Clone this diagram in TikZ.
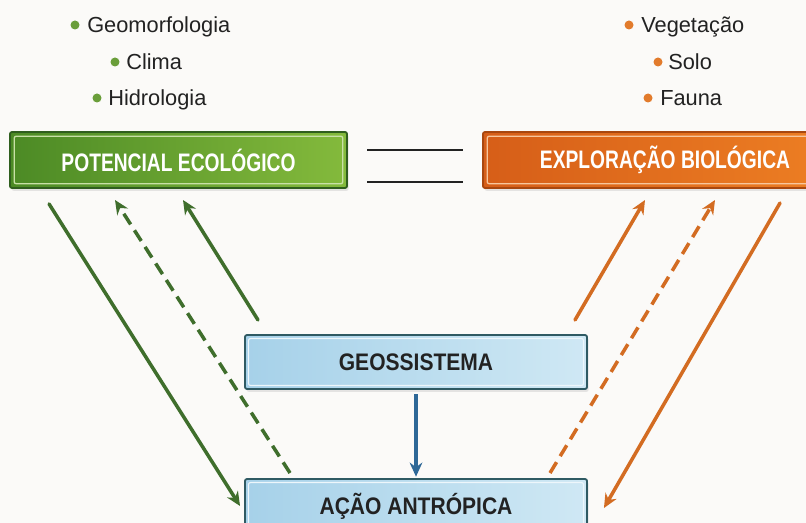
\documentclass[tikz,border=0pt]{standalone}
\usepackage{fontspec}
\setmainfont{Liberation Sans}
\newfontfamily\labfont[FakeStretch=0.76]{Liberation Sans}
\newfontfamily\geofont[FakeStretch=0.88]{Liberation Sans}
\usetikzlibrary{arrows.meta, shadows, calc}
\definecolor{bg}{HTML}{FBFAF8}
\definecolor{ink}{HTML}{222222}
\definecolor{ecodark}{HTML}{2F5E1E}
\definecolor{ecoleft}{HTML}{4C8A25}
\definecolor{ecoright}{HTML}{84BA3C}
\definecolor{ecoline}{HTML}{3F6E2C}
\definecolor{ecodot}{HTML}{6A9E3A}
\definecolor{biodark}{HTML}{A8470F}
\definecolor{bioleft}{HTML}{D65E18}
\definecolor{bioright}{HTML}{EE8024}
\definecolor{bioline}{HTML}{D36C22}
\definecolor{biodot}{HTML}{E27B2C}
\definecolor{geoleft}{HTML}{A6D1E9}
\definecolor{georight}{HTML}{CFE8F4}
\definecolor{geoedge}{HTML}{2F5A63}
\definecolor{geoarrow}{HTML}{2E6897}

\begin{document}
\begin{tikzpicture}[x = 0.025cm, y = -0.025cm,
        item/.style = {anchor = base west, inner sep = 0pt, text = ink, font = \fontsize{15.5}{18}\selectfont},
        box/.style = {rectangle, rounded corners = 1.5pt, line width = 1.3pt, inner sep = 0pt,
            drop shadow = {opacity = 0.18, shadow xshift = 0.04cm, shadow yshift = -0.07cm}},
        ecobox/.style = {box, draw = ecodark, left color = ecoleft, right color = ecoright, text = white,
            font = \labfont\bfseries\fontsize{18}{20}\selectfont,
            path picture = {\draw[ecoright!45!white, line width = 0.9pt]
                ([shift = {(3pt, -3pt)}]path picture bounding box.north west)
                rectangle
                ([shift = {(-3pt, 3pt)}]path picture bounding box.south east);}},
        biobox/.style = {box, draw = biodark, left color = bioleft, right color = bioright, text = white,
            font = \labfont\bfseries\fontsize{18}{20}\selectfont,
            path picture = {\draw[bioright!45!white, line width = 0.9pt]
                ([shift = {(3pt, -3pt)}]path picture bounding box.north west)
                rectangle
                ([shift = {(-3pt, 3pt)}]path picture bounding box.south east);}},
        geobox/.style = {box, draw = geoedge, left color = geoleft, right color = georight, text = ink,
            minimum width = 8.55cm, minimum height = 1.35cm,
            font = \geofont\bfseries\fontsize{17}{19}\selectfont,
            path picture = {\draw[white!80!geoleft, line width = 0.8pt]
                ([shift = {(2.5pt, -2.5pt)}]path picture bounding box.north west)
                rectangle
                ([shift = {(-2.5pt, 2.5pt)}]path picture bounding box.south east);}},
        eco/.style = {draw = ecoline, line width = 2.5pt, line cap = round, -{Stealth[length = 10pt, width = 9pt]}},
        ecodash/.style = {eco, line cap = butt, dash pattern = on 9pt off 5pt},
        bio/.style = {draw = bioline, line width = 2.5pt, line cap = round, -{Stealth[length = 10pt, width = 9pt]}},
        biodash/.style = {bio, line cap = butt, dash pattern = on 9pt off 5pt},
        geoarr/.style = {draw = geoarrow, line width = 2.8pt, -{Stealth[length = 10pt, width = 9pt]}}]
    \fill[bg] (0, 0) rectangle (806, 523);
    \useasboundingbox (0, 0) rectangle (806, 523);
        \node[item] (geomorf) at (87, 33) {Geomorfologia};
        \node[item] (clima) at (126, 70) {Clima};
        \node[item] (hidro) at (108, 106) {Hidrologia};
            \fill[ecodot] (75, 25) circle (3.2pt);
            \fill[ecodot] (115, 62) circle (3.2pt);
            \fill[ecodot] (97, 98) circle (3.2pt);
        \node[item] (veget) at (641, 33) {Vegetação};
        \node[item] (solo) at (668, 70) {Solo};
        \node[item] (fauna) at (660, 106) {Fauna};
            \fill[biodot] (629, 25) circle (3.2pt);
            \fill[biodot] (658, 62) circle (3.2pt);
            \fill[biodot] (648, 98) circle (3.2pt);
    \node[ecobox, minimum width = 8.425cm, minimum height = 1.4cm] (potencial) at (178.5, 160) {POTENCIAL ECOLÓGICO};
    \node[biobox, minimum width = 9.1cm, minimum height = 1.4cm] (exploracao) at (665, 160) {EXPLORAÇÃO BIOLÓGICA};
    \node[geobox] (geossistema) at (416, 362) {GEOSSISTEMA};
    \node[geobox] (acao) at (416, 506) {AÇÃO ANTRÓPICA};
        \coordinate (eqa) at (367, 150);
        \coordinate (eqb) at (463, 150);
        \coordinate (eqc) at (367, 182);
        \coordinate (eqd) at (463, 182);
        \draw[ink, line width = 1.1pt] (eqa) -- (eqb);
        \draw[ink, line width = 1.1pt] (eqc) -- (eqd);
        \coordinate (ecoa) at ($(potencial.south west) + (40, 15)$);
        \coordinate (ecob) at ($(acao.west) + (-4, 0)$);
        \coordinate (ecoc) at (290, 473);
        \coordinate (ecod) at (115, 200);
        \coordinate (ecoe) at (258, 320);
        \coordinate (ecof) at (183, 200);
        \draw[eco] (ecoa) -- (ecob);
        \draw[ecodash] (ecoc) -- (ecod);
        \draw[eco] (ecoe) -- (ecof);
        \coordinate (bioa) at (575, 320);
        \coordinate (biob) at (645, 200);
        \coordinate (bioc) at (550, 473);
        \coordinate (biod) at (715, 200);
        \coordinate (bioe) at (780, 203);
        \coordinate (biof) at ($(acao.east) + (16, 2)$);
        \draw[bio] (bioa) -- (biob);
        \draw[biodash] (bioc) -- (biod);
        \draw[bio] (bioe) -- (biof);
    \draw[geoarr, shorten <= 3pt, shorten >= 1pt] (geossistema.south) -- (acao.north);
\end{tikzpicture}
\end{document}
